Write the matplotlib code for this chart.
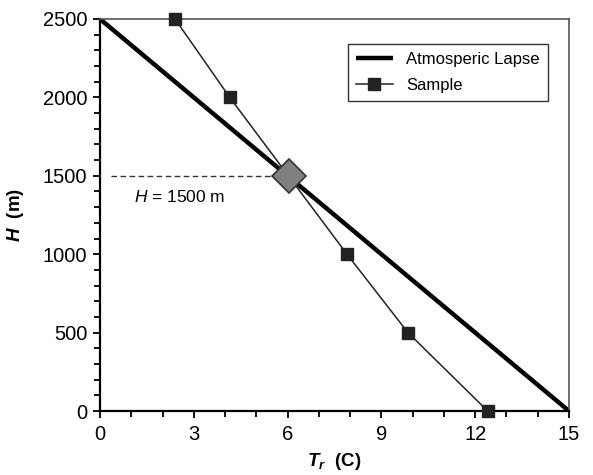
import matplotlib.pyplot as plt
from matplotlib.ticker import MultipleLocator

plt.rcParams['font.family'] = ['Liberation Sans', 'DejaVu Sans']
plt.rcParams['mathtext.fontset'] = 'custom'
plt.rcParams['mathtext.it'] = 'Liberation Sans:italic'
plt.rcParams['mathtext.bf'] = 'Liberation Sans:bold'
plt.rcParams['mathtext.bfit'] = 'Liberation Sans:italic:bold'
plt.rcParams['mathtext.rm'] = 'Liberation Sans'

# atmospheric lapse line
lapse_T = [0, 15]
lapse_H = [2500, 0]

# sample points
sample_T = [2.4, 4.15, 7.9, 9.85, 12.4]
sample_H = [2500, 2000, 1000, 500, 0]

# intersection marker
cross_T = 6.05
cross_H = 1500

fig = plt.figure(figsize=(5.93, 4.75), dpi=100)
ax = fig.add_axes([0.1686, 0.1347, 0.7909, 0.8253])

ax.plot(sample_T, sample_H, color='#222222', lw=1.1, marker='s', ms=9,
        mfc='#222222', mec='#222222', label='Sample', zorder=3, clip_on=False)
ax.plot(lapse_T, lapse_H, color='black', lw=3.2, label='Atmosperic Lapse',
        zorder=2, solid_capstyle='butt')
ax.plot([0.35, cross_T], [cross_H, cross_H], color='#333333', lw=1, ls=(0, (4, 2.5)), zorder=1)
ax.plot([cross_T], [cross_H], marker='D', ms=17, mfc='#808080', mec='#333333',
        mew=1.2, zorder=4)
ax.text(1.1, 1330, r'$H$ = 1500 m', fontsize=12.5)

ax.set_xlim(0, 15)
ax.set_ylim(0, 2500)
ax.xaxis.set_major_locator(MultipleLocator(3))
ax.xaxis.set_minor_locator(MultipleLocator(1))
ax.yaxis.set_major_locator(MultipleLocator(500))
ax.yaxis.set_minor_locator(MultipleLocator(100))
ax.tick_params(which='both', direction='out', labelsize=14.5, width=1.3)
ax.tick_params(which='major', length=5)
ax.tick_params(which='minor', length=4)
ax.tick_params(axis='x', pad=5)
ax.tick_params(axis='y', pad=4)

for side in ['left', 'bottom']:
    ax.spines[side].set_linewidth(1.6)
for side in ['top', 'right']:
    ax.spines[side].set_linewidth(1.2)
    ax.spines[side].set_color('#555555')

ax.set_xlabel(r'$\mathbfit{T}_{\mathbfit{r}}$  (C)', fontsize=13.5, fontweight='bold', labelpad=5)
ax.set_ylabel(r'$\mathbfit{H}$  (m)', fontsize=13.5, fontweight='bold', labelpad=12)

handles, labels = ax.get_legend_handles_labels()
leg = ax.legend(handles[::-1], labels[::-1], loc='upper right', fontsize=12,
                fancybox=False, edgecolor='#333333', framealpha=1,
                bbox_to_anchor=(0.955, 0.937), borderaxespad=0,
                handlelength=2.2, borderpad=0.5, labelspacing=0.65)
leg.get_frame().set_linewidth(1)

plt.savefig('out.png', dpi=100)
